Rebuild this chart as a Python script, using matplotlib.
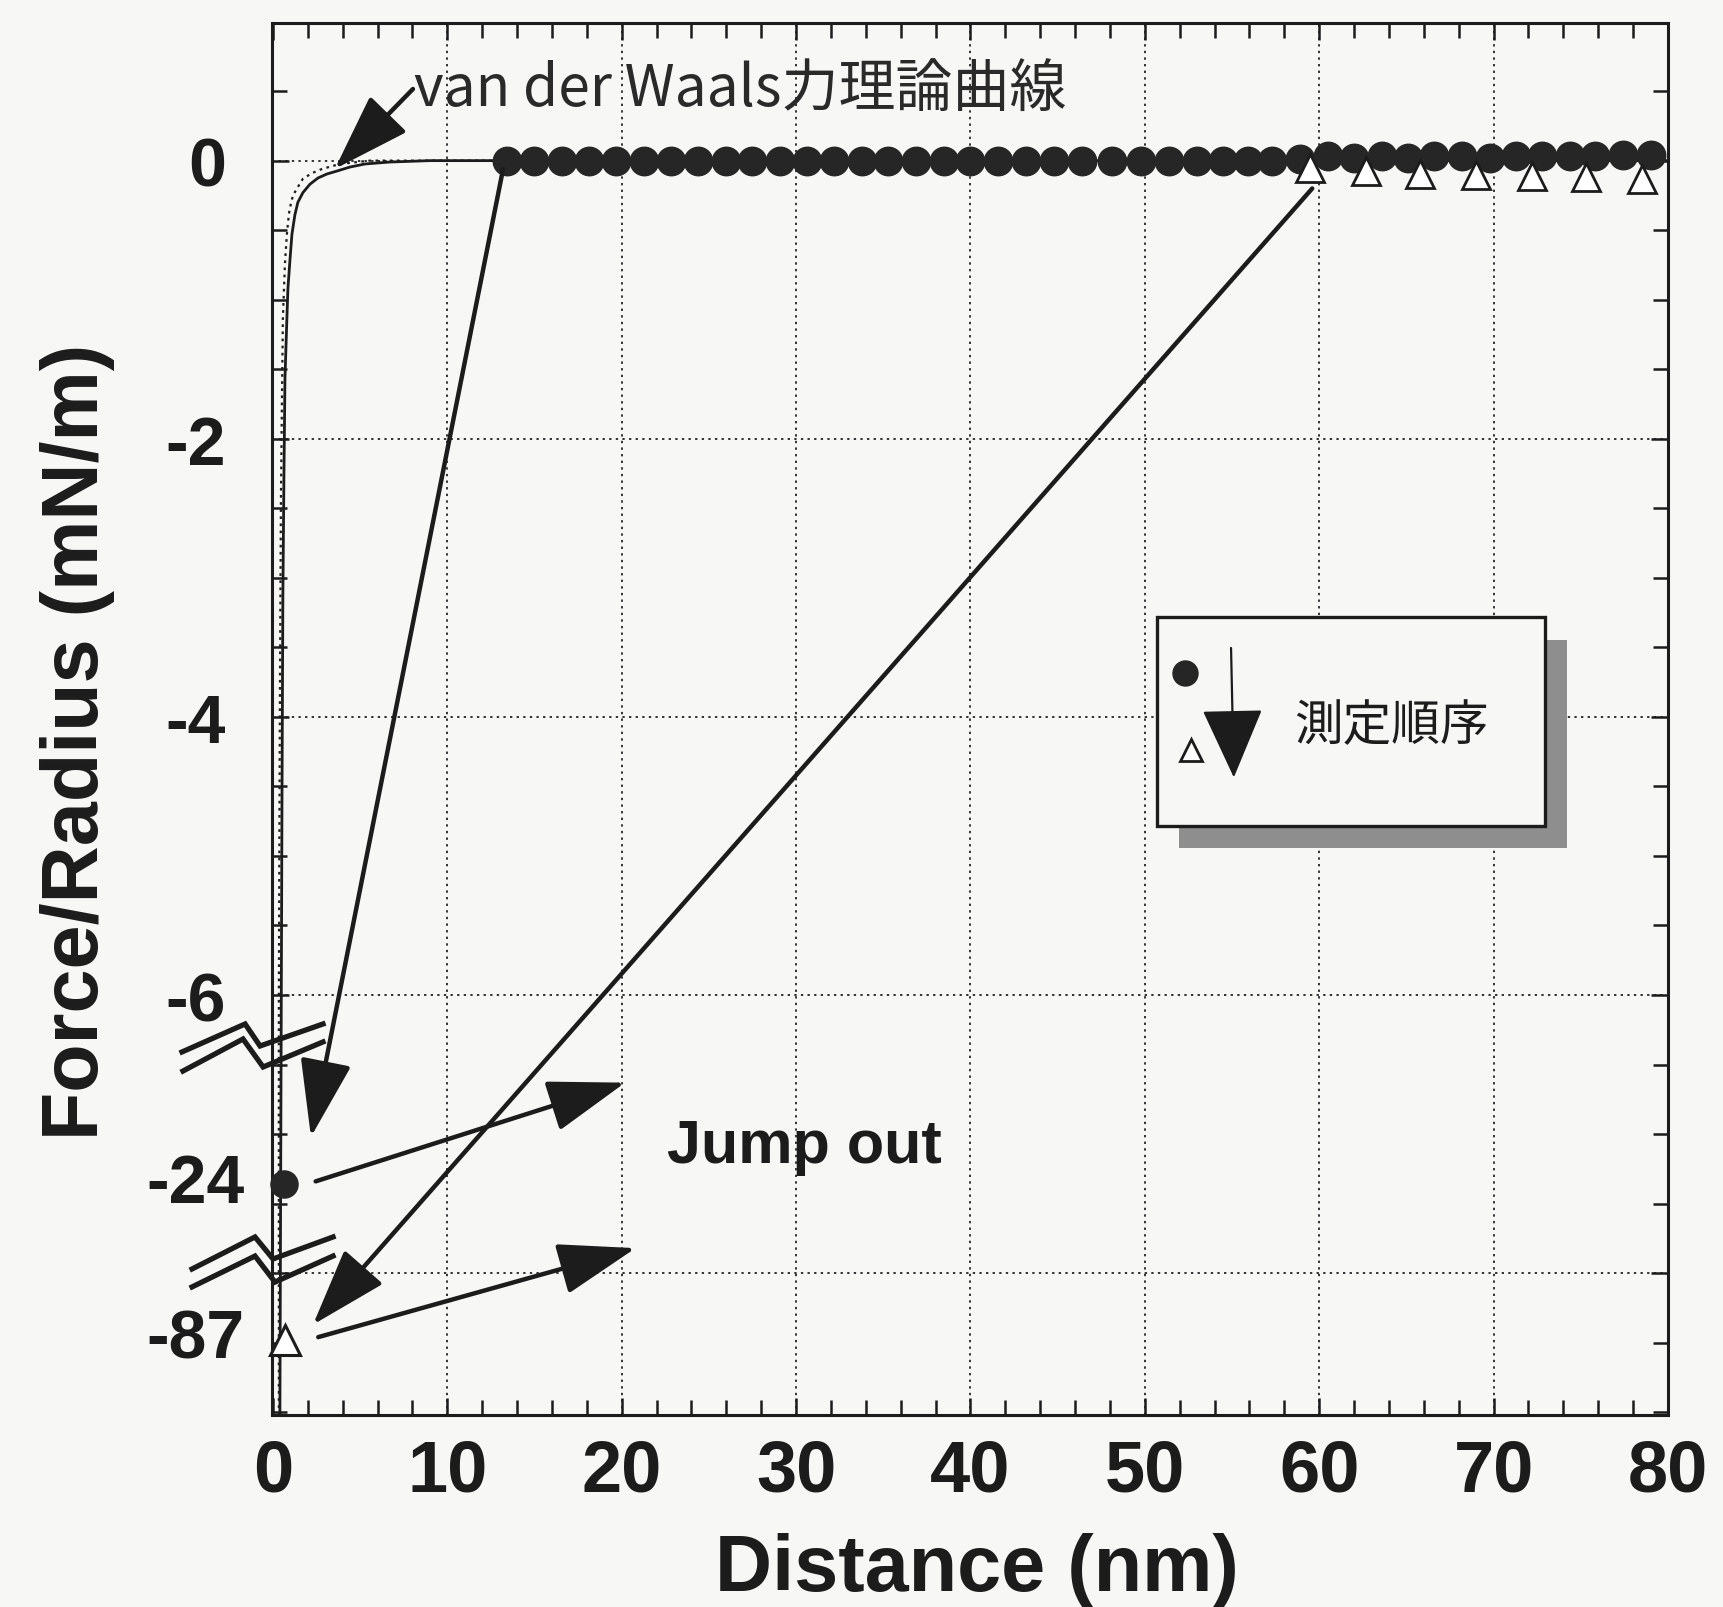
import matplotlib
matplotlib.use('Agg')
import matplotlib.pyplot as plt
from matplotlib.patches import Rectangle
from matplotlib.ticker import MultipleLocator, FixedLocator
import matplotlib.transforms as mtransforms

plt.rcParams['font.family'] = ['Liberation Sans', 'Noto Sans CJK JP', 'DejaVu Sans']
plt.rcParams['font.weight'] = 'bold'

INK = '#1c1c1c'
PAPER = '#f7f7f5'

# --- data (y below -6 is on a broken axis) ---
approach_x = [13.4, 15.0, 16.6, 18.1, 19.7, 21.3, 22.8, 24.4, 26.0, 27.5, 29.1,
              30.6, 32.2, 33.8, 35.3, 36.9, 38.5, 40.0, 41.6, 43.2, 44.8, 46.4,
              48.1, 49.8, 51.4, 53.0, 54.5, 55.9, 57.3, 58.9, 60.5, 62.0, 63.6,
              65.1, 66.6, 68.2, 69.8, 71.3, 72.8, 74.4, 75.8, 77.4, 79.0]
approach_y = [0.0, 0.0, 0.0, 0.0, 0.0, 0.0, 0.0, 0.0, 0.0, 0.0, 0.0,
              0.0, 0.0, 0.0, 0.0, 0.0, 0.0, 0.0, 0.0, 0.0, 0.0, 0.0,
              0.0, 0.0, 0.0, 0.0, 0.0, 0.0, 0.0, 0.01, 0.03, 0.02, 0.03,
              0.02, 0.03, 0.03, 0.02, 0.03, 0.03, 0.03, 0.03, 0.04, 0.04]
retract_x = [59.5, 62.7, 65.8, 69.0, 72.2, 75.3, 78.5]
retract_y = [-0.05, -0.075, -0.095, -0.10, -0.11, -0.12, -0.13]

# contact points (plotted at break positions, labelled with real values)
jump_x = [0.62, 0.72]
jump_y_axis = [-7.36, -8.48]
jump_labels = ['-24', '-87']

# van der Waals theory curves
vdw_solid_x = [0.40, 0.46, 0.52, 0.57, 0.63, 0.69, 0.80, 0.86, 0.98, 1.09, 1.26,
               1.43, 1.72, 2.12, 2.58, 3.10, 3.67, 4.42, 5.28, 6.71, 9.0, 80.0]
vdw_solid_y = [-9.02, -6.75, -4.59, -3.15, -2.29, -1.57, -1.14, -0.92, -0.71, -0.53, -0.39,
               -0.30, -0.23, -0.17, -0.125, -0.096, -0.075, -0.046, -0.024, -0.01, 0.0, 0.0]
vdw_dot_x = [0.34, 0.34, 0.40, 0.46, 0.52, 0.57, 0.69, 0.80, 0.92, 1.03, 1.15,
             1.43, 1.72, 2.24, 2.81, 3.84, 5.56, 13.0]
vdw_dot_y = [-9.02, -6.03, -3.87, -2.43, -1.71, -1.14, -0.74, -0.53, -0.38, -0.31, -0.25,
             -0.19, -0.13, -0.09, -0.06, -0.024, 0.0, 0.0]

x_ticks = [0, 10, 20, 30, 40, 50, 60, 70, 80]
y_ticks = [0, -2, -4, -6, -8]
y_tick_labels = ['0', '-2', '-4', '-6', '']

fig = plt.figure(figsize=(17.24, 16.08), dpi=100, facecolor=PAPER)
ax = fig.add_axes([0.1578, 0.1194, 0.8097, 0.8657], facecolor=PAPER)

ax.plot(vdw_dot_x, vdw_dot_y, color=INK, lw=1.6, ls=(0, (1.2, 2.0)), zorder=3)
ax.plot(vdw_solid_x, vdw_solid_y, color=INK, lw=2.0, zorder=3)
ax.plot(approach_x, approach_y, 'o', ms=20.5, color='#262626', mec='#262626', zorder=5)
ax.plot(retract_x, retract_y, '^', ms=19.5, mfc='white', mec=INK, mew=2.0, zorder=6)
ax.plot(jump_x[0], jump_y_axis[0], 'o', ms=19.5, color='#262626', zorder=5, clip_on=False)
ax.plot(jump_x[1], jump_y_axis[1], '^', ms=21, mfc='white', mec=INK, mew=2.2, zorder=6, clip_on=False)

ax.set_xlim(-0.05, 80)
ax.set_ylim(-9.02, 0.99)
ax.xaxis.set_major_locator(FixedLocator(x_ticks))
ax.xaxis.set_minor_locator(MultipleLocator(2))
ax.yaxis.set_major_locator(FixedLocator(y_ticks))
ax.yaxis.set_minor_locator(MultipleLocator(0.5))
ax.set_xticklabels([str(t) for t in x_ticks])
ax.set_yticklabels(y_tick_labels)
ax.tick_params(which='both', direction='in', top=True, right=True, color=INK)
ax.tick_params(which='major', length=12, width=1.8)
ax.tick_params(which='minor', length=11, width=1.8)
ax.tick_params(axis='x', labelsize=52, pad=16, labelcolor=INK)
ax.tick_params(axis='y', labelsize=49, pad=33, labelcolor=INK)
for sp in ax.spines.values():
    sp.set_linewidth(2.2)
    sp.set_color(INK)
ax.grid(True, which='major', color='#333333', lw=1.4, ls=(0, (1.2, 2.2)), zorder=1)
ax.set_axisbelow(True)

# labels for the broken-axis points
trans = mtransforms.blended_transform_factory(ax.transAxes, ax.transData)
for yv, lab in zip(jump_y_axis, jump_labels):
    ax.text(-0.02, yv, lab, transform=trans, ha='right', va='center',
            fontsize=49, fontweight='bold', color=INK, clip_on=False)

ax.set_xlabel('Distance (nm)', fontsize=57, fontweight='bold', color=INK)
ax.xaxis.label.set_verticalalignment('baseline')
ax.xaxis.set_label_coords(0.505, -0.126)
ax.set_ylabel('Force/Radius (mN/m)', fontsize=57, fontweight='bold', color=INK)
ax.yaxis.label.set_verticalalignment('baseline')
ax.yaxis.set_label_coords(-0.125, 0.484)

# axis break marks
breaks = [
    ([-0.0645, -0.0193, -0.0086, 0.0365], [0.2608, 0.2809, 0.2651, 0.2809]),
    ([-0.0638, -0.0208, -0.0064, 0.0365], [0.2471, 0.2701, 0.2500, 0.2680]),
    ([-0.0573, -0.0122, 0.0007, 0.0437], [0.1049, 0.1279, 0.1121, 0.1279]),
    ([-0.0573, -0.0122, 0.0021, 0.0437], [0.0920, 0.1142, 0.0955, 0.1142]),
]
for bx, by in breaks:
    ax.plot(bx, by, color=INK, lw=3.8, transform=ax.transAxes, clip_on=False,
            solid_joinstyle='miter', zorder=7)

# arrows
big = dict(arrowstyle='-|>,head_length=1.35,head_width=0.45', color=INK, lw=3.2,
           mutation_scale=36, shrinkA=0, shrinkB=0)
ax.annotate('', xy=(3.55, -0.06), xytext=(8.03, 0.515), arrowprops=big, zorder=8)
ax.annotate('', xy=(2.18, -7.02), xytext=(13.2, -0.06), arrowprops=big, zorder=8)
ax.annotate('', xy=(20.2, -6.63), xytext=(2.45, -7.34), arrowprops=big, zorder=8)
ax.annotate('', xy=(2.3, -8.37), xytext=(59.6, -0.2), arrowprops=big, zorder=8)
ax.annotate('', xy=(20.8, -7.82), xytext=(2.6, -8.46), arrowprops=big, zorder=8)

ax.text(8.1, 0.52, 'van der Waals力理論曲線', fontsize=41, fontweight='normal',
        family=['Noto Sans CJK JP', 'DejaVu Sans'], color='#2a2a2a', ha='left', va='center', zorder=9)
ax.text(22.6, -7.2, 'Jump out', fontsize=44, fontweight='bold', color=INK,
        ha='left', va='baseline', zorder=9)

# measurement-order box
ax.add_patch(Rectangle((0.650, 0.407), 0.278, 0.150, transform=ax.transAxes,
                       facecolor='#8e8e8e', edgecolor='none', zorder=9))
ax.add_patch(Rectangle((0.634, 0.423), 0.278, 0.150, transform=ax.transAxes,
                       facecolor=PAPER, edgecolor=INK, lw=2.4, zorder=10))
ax.plot(0.654, 0.533, 'o', ms=18, color='#262626', transform=ax.transAxes, zorder=11)
ax.plot(0.658, 0.478, '^', ms=16, mfc='white', mec=INK, mew=2.0, transform=ax.transAxes, zorder=11)
ax.annotate('', xy=(0.689, 0.458), xytext=(0.687, 0.551), xycoords='axes fraction',
            arrowprops=dict(arrowstyle='-|>,head_length=1.25,head_width=0.55', color=INK,
                            lw=1.6, mutation_scale=36, shrinkA=0, shrinkB=0), zorder=11)
ax.text(0.8016, 0.4957, '測定順序', transform=ax.transAxes, fontsize=35, fontweight='normal',
        family=['Noto Sans CJK JP', 'DejaVu Sans'], color=INK, ha='center', va='center', zorder=11)

fig.savefig('out.png', dpi=100, facecolor=fig.get_facecolor())
